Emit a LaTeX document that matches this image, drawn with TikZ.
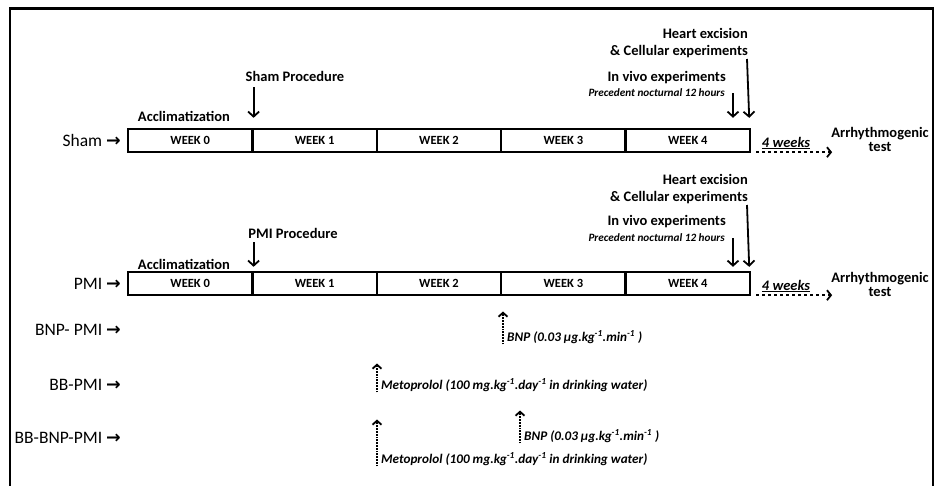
\documentclass[tikz,border=0pt]{standalone}
\usepackage{fontspec}
\setmainfont{Carlito}
\newfontfamily\arrowfont{DejaVu Sans}
\usetikzlibrary{positioning,arrows.meta}
\newcommand{\rarr}{{\arrowfont\bfseries\symbol{"2192}}}
\newcommand{\perkg}[1]{#1.kg\textsuperscript{-1}}

\tikzset{
  weekbox/.style={draw,line width=2.4pt,minimum width=124.4pt,minimum height=23pt,
    inner sep=0pt,font=\fontsize{12.5}{13}\selectfont\bfseries},
  grouplbl/.style={anchor=east,inner sep=1pt,font=\fontsize{17.5}{19}\selectfont},
  evlbl/.style={inner sep=1pt,font=\fontsize{14.5}{17}\selectfont\bfseries},
  smalllbl/.style={inner sep=1pt,font=\fontsize{11.2}{12}\selectfont\bfseries\itshape},
  druglbl/.style={anchor=west,inner sep=1pt,font=\fontsize{13.2}{14}\selectfont\bfseries\itshape},
  evarrow/.style={-{Straight Barb[length=5pt,width=11pt,line width=1.8pt]},line width=1.8pt},
  drugarrow/.style={-{Straight Barb[length=4pt,width=9pt,line width=1.8pt]},line width=1.8pt,densely dotted},
  waitarrow/.style={-{Straight Barb[length=4pt,width=10pt,line width=1.8pt]},line width=1.8pt,dashed}
}

\begin{document}
\begin{tikzpicture}[x=1pt,y=-1pt]
  \useasboundingbox (0,0) rectangle (939,485);
  % frame
  \draw[line width=2.6pt] (10,490) -- (10,8.5) -- (933,8.5) -- (933,490);

  % Sham group
  \foreach \w in {0,...,4}
    \node[weekbox] (s\w) at ({190.2+124.4*\w},140.5) {WEEK \w};
  \node[grouplbl] (shamlbl) at (122,140.5) {Sham \rarr};
  \node[evlbl] (shamacc) at (184,116) {Acclimatization};
  \node[evlbl] (shamproc) at (295,76) {Sham Procedure};
  \draw[evarrow] ([yshift=-5pt]shamproc.south -| s0.east) -- ([yshift=10pt]s0.north east);
  \node[evlbl,align=right,anchor=south east] (shamheart) at (749,59) {Heart excision\\\& Cellular experiments};
  \node[evlbl,anchor=east] (shamvivo) at (727,78) {In vivo experiments};
  \node[smalllbl,anchor=east] (shamprec) at (726,93) {Precedent nocturnal 12 hours};
  \draw[evarrow] ([xshift=-2pt]shamheart.south east) -- ([xshift=-2pt,yshift=10pt]s4.north east);
  \draw[evarrow] ([xshift=7pt]shamprec.east) -- ([xshift=7pt,yshift=10pt]shamprec.east |- s4.north);
  \node[evlbl,font=\fontsize{14.5}{17}\selectfont\bfseries\itshape] (shamwait) at (786,143) {\underline{4 weeks}};
  \node[evlbl,align=center] (shamtest) at (880,139) {Arrhythmogenic\\[-3pt]test};
  \draw[waitarrow] ([xshift=5pt,yshift=1pt]s4.south east) -- ([xshift=2pt,yshift=1pt]shamtest.west |- s4.south east);

  % PMI group
  \foreach \w in {0,...,4}
    \node[weekbox] (p\w) at ({190.2+124.4*\w},283.5) {WEEK \w};
  \node[grouplbl] (pmilbl) at (122,283.5) {PMI \rarr};
  \node[evlbl] (pmiacc) at (184,264) {Acclimatization};
  \node[evlbl] (pmiproc) at (293,233) {PMI Procedure};
  \draw[evarrow] ([yshift=-3pt]pmiproc.south -| p0.east) -- ([yshift=4pt]p0.north east);
  \node[evlbl,align=right,anchor=south east] (pmiheart) at (749,205) {Heart excision\\\& Cellular experiments};
  \node[evlbl,anchor=east] (pmivivo) at (727,222) {In vivo experiments};
  \node[smalllbl,anchor=east] (pmiprec) at (726,238) {Precedent nocturnal 12 hours};
  \draw[evarrow] ([xshift=-2pt]pmiheart.south east) -- ([xshift=-2pt,yshift=4pt]p4.north east);
  \draw[evarrow] ([xshift=7pt]pmiprec.east) -- ([xshift=7pt,yshift=4pt]pmiprec.east |- p4.north);
  \node[evlbl,font=\fontsize{14.5}{17}\selectfont\bfseries\itshape] (pmiwait) at (786,286) {\underline{4 weeks}};
  \node[evlbl,align=center] (pmitest) at (880,284) {Arrhythmogenic\\[-3pt]test};
  \draw[waitarrow] ([xshift=5pt,yshift=1pt]p4.south east) -- ([xshift=2pt,yshift=1pt]pmitest.west |- p4.south east);

  % treated groups
  \node[grouplbl] (bnplbl) at (122,330) {BNP- PMI \rarr};
  \node[grouplbl] (bblbl) at (122,385) {BB-PMI \rarr};
  \node[grouplbl] (bbbnplbl) at (122,438) {BB-BNP-PMI \rarr};

  \node[druglbl] (bnpa) at (506,337) {BNP (0.03 µg\perkg{}.min\textsuperscript{-1} )};
  \draw[drugarrow] ([xshift=-3pt]bnpa.south west) -- ([xshift=-3pt,yshift=18pt]bnpa.north west);
  \node[druglbl] (metoa) at (380,385) {Metoprolol (100 mg\perkg{}.day\textsuperscript{-1} in drinking water)};
  \draw[drugarrow] ([xshift=-3pt]metoa.south west) -- ([xshift=-3pt,yshift=14pt]metoa.north west);
  \node[druglbl] (bnpb) at (523,436) {BNP (0.03 µg\perkg{}.min\textsuperscript{-1} )};
  \draw[drugarrow] ([xshift=-3pt]bnpb.south west) -- ([xshift=-3pt,yshift=18pt]bnpb.north west);
  \node[druglbl] (metob) at (380,459) {Metoprolol (100 mg\perkg{}.day\textsuperscript{-1} in drinking water)};
  \draw[drugarrow] ([xshift=-3pt]metob.south west) -- ([xshift=-3pt,yshift=32pt]metob.north west);
\end{tikzpicture}
\end{document}
